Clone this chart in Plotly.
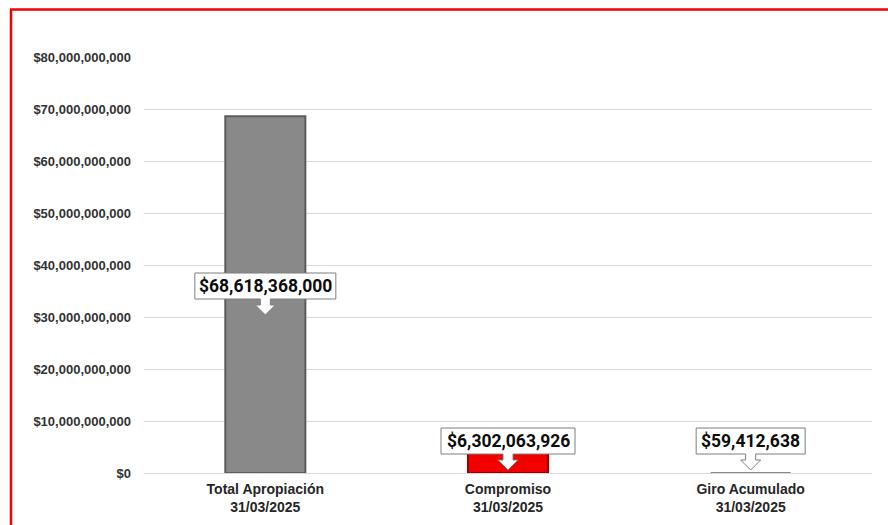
import plotly.graph_objects as go

categories = ["Total Apropiación<br>31/03/2025", "Compromiso<br>31/03/2025", "Giro Acumulado<br>31/03/2025"]
values = [68618368000, 6302063926, 59412638]
label_texts = ["$68,618,368,000", "$6,302,063,926", "$59,412,638"]
y_tick_vals = [0, 10e9, 20e9, 30e9, 40e9, 50e9, 60e9, 70e9, 80e9]
y_tick_text = ["$0", "$10,000,000,000", "$20,000,000,000", "$30,000,000,000", "$40,000,000,000",
               "$50,000,000,000", "$60,000,000,000", "$70,000,000,000", "$80,000,000,000"]

bar_colors = ["#898989", "#f20000", "#898989"]
bar_lines = ["#5c5c5c", "#9a0000", "#898989"]
bar_line_w = [2, 2, 0]

# callout placement (box centre, in data units) and box widths (px)
label_y = [35.96e9, 6.15e9, 6.15e9]
box_w = [141, 134, 109]

fig = go.Figure()
fig.add_trace(go.Bar(
    x=categories, y=values, width=0.33,
    marker=dict(color=bar_colors, line=dict(color=bar_lines, width=bar_line_w)),
    hoverinfo="skip",
))

shapes = []
annotations = []
for cat, ly, w, txt in zip(categories, label_y, box_w, label_texts):
    h = w / 2
    path = (f"M {-h},13 L {h},13 L {h},-13 L 5,-13 L 5,-19 L 10,-19 L 0,-29 "
            f"L -10,-19 L -5,-19 L -5,-13 L {-h},-13 Z")
    shapes.append(dict(type="path", xref="x", yref="y", xsizemode="pixel", ysizemode="pixel",
                       xanchor=cat, yanchor=ly, path=path, fillcolor="white",
                       line=dict(color="#7f7f7f", width=1), layer="above"))
    annotations.append(dict(x=cat, y=ly, xref="x", yref="y", text=txt, showarrow=False,
                            xanchor="center", yanchor="middle",
                            font=dict(family="Roboto", size=17.5, color="#0d0d0d", weight="bold")))

# red frame (top and left)
L, R, T, B = 144, 16, 57, 52
PW, PH = 888 - L - R, 525 - T - B
def px(x): return (x - L) / PW
def py(y): return (525 - B - y) / PH
shapes.append(dict(type="line", xref="paper", yref="paper", x0=px(10), x1=px(890), y0=py(9.5), y1=py(9.5),
                   line=dict(color="#ee0000", width=2.5), layer="above"))
shapes.append(dict(type="line", xref="paper", yref="paper", x0=px(11), x1=px(11), y0=py(9.5), y1=py(527),
                   line=dict(color="#ee0000", width=2.5), layer="above"))

fig.update_layout(
    width=888, height=525,
    margin=dict(l=L, r=R, t=T, b=B),
    paper_bgcolor="white", plot_bgcolor="white",
    showlegend=False,
    shapes=shapes, annotations=annotations,
    xaxis=dict(showgrid=False, showline=False, ticks="", ticklabelstandoff=6, automargin=False,
               tickfont=dict(family="Liberation Sans", size=14, color="#262626", weight="bold")),
    yaxis=dict(range=[0, 80e9], tickvals=y_tick_vals, ticktext=y_tick_text, automargin=False,
               showgrid=True, gridcolor="#d9d9d9", gridwidth=1, zeroline=True, zerolinecolor="#d9d9d9",
               zerolinewidth=1, showline=False, ticks="", ticklabelstandoff=12,
               tickfont=dict(family="Liberation Sans", size=13, color="#333333", weight="bold")),
)

fig.write_html("out.html", config={"displayModeBar": False},
               post_script="document.body.style.margin='0';")
